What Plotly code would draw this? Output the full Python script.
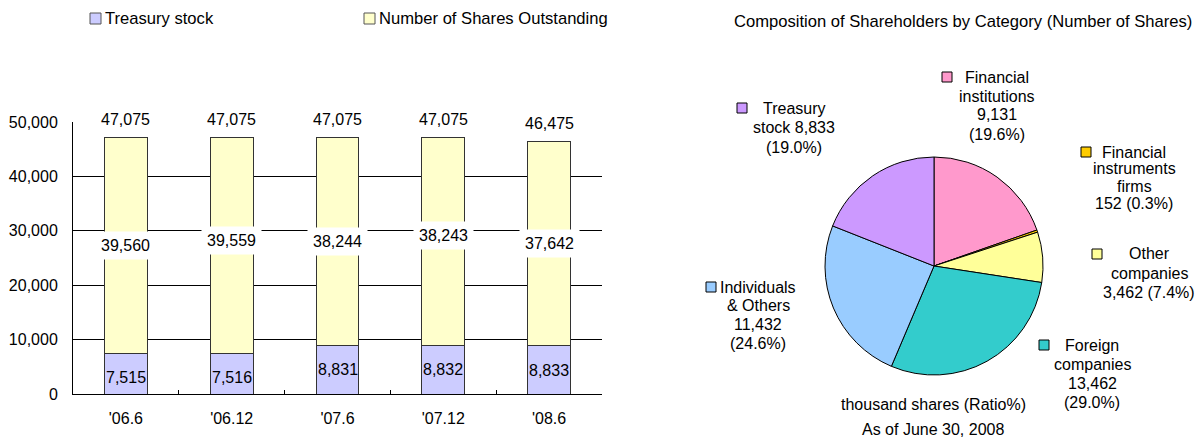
import plotly.graph_objects as go

# ---------------- data ----------------
periods = ["'06.6", "'06.12", "'07.6", "'07.12", "'08.6"]
treasury = [7515, 7516, 8831, 8832, 8833]
outstanding = [39560, 39559, 38244, 38243, 37642]
totals = [47075, 47075, 47075, 47075, 46475]

pie_labels = ["Financial institutions", "Financial instruments firms", "Other companies",
              "Foreign companies", "Individuals & Others", "Treasury stock"]
pie_values = [9131, 152, 3462, 13462, 11432, 8833]
pie_pcts = [19.6, 0.3, 7.4, 29.0, 24.6, 19.0]

# ---------------- style ----------------
OFF = 8                      # page body margin of the html page
W, H = 1204 - OFF, 439 - OFF
FONT = "Liberation Sans, Arial, sans-serif"
FS = 16
C_TREAS = "#CCCCFF"
C_OUT = "#FFFFCC"
pie_colors = ["#FF99CC", "#FFCC00", "#FFFF99", "#33CCCC", "#99CCFF", "#CC99FF"]
mid_shift = [0, 5, 0, 6, 0]      # label offsets (px) as in the original
low_shift = [-4, -4, 0, 0, -1]


def px(x):
    return (x - OFF) / W


def py(y):
    return 1 - (y - OFF) / H


fig = go.Figure()
fig.add_trace(go.Bar(x=periods, y=treasury, name="Treasury stock",
                     marker=dict(color=C_TREAS, line=dict(color="#333333", width=1))))
fig.add_trace(go.Bar(x=periods, y=outstanding, name="Number of Shares Outstanding",
                     marker=dict(color=C_OUT, line=dict(color="#333333", width=1))))

fig.add_trace(go.Pie(values=pie_values, labels=pie_labels, sort=False,
                     direction="clockwise", rotation=0,
                     marker=dict(colors=pie_colors, line=dict(color="#000000", width=1)),
                     textinfo="none", showlegend=False, automargin=False,
                     domain=dict(x=[px(825), px(1043)], y=[py(375), py(157)])))

annotations = []
shapes = []
tf = dict(family=FONT, size=FS, color="#000000")
tfl = dict(family=FONT, size=16.6, color="#000000")

# bar labels
for i, p in enumerate(periods):
    annotations.append(dict(x=p, y=totals[i], xref="x", yref="y", text=f"{totals[i]:,}",
                            showarrow=False, yshift=18, bgcolor="white", borderpad=2, font=tf))
    annotations.append(dict(x=p, y=treasury[i] + outstanding[i] / 2, xref="x", yref="y",
                            text=f"{outstanding[i]:,}", showarrow=False, yshift=mid_shift[i],
                            bgcolor="white", borderpad=5, font=tf))
    annotations.append(dict(x=p, y=treasury[i] / 2, xref="x", yref="y",
                            text=f"{treasury[i]:,}", showarrow=False, yshift=low_shift[i], font=tf))

# bar legend
leg = [(90, "Treasury stock", C_TREAS),
       (364, "Number of Shares Outstanding", C_OUT)]
for x0, label, col in leg:
    shapes.append(dict(type="rect", xref="paper", yref="paper",
                       x0=px(x0), x1=px(x0 + 11), y0=py(24), y1=py(13),
                       fillcolor=col, line=dict(color="#555555", width=1)))
    annotations.append(dict(x=px(x0 + 13), y=py(18.5), xref="paper", yref="paper",
                            xanchor="left", yanchor="middle", text=label, showarrow=False, font=tfl))

# pie title & notes
annotations.append(dict(x=px(732), y=py(22), xref="paper", yref="paper", xanchor="left",
                        yanchor="middle", text="Composition of Shareholders by Category (Number of Shares)",
                        showarrow=False, font=tfl))
annotations.append(dict(x=px(933), y=py(404), xref="paper", yref="paper", xanchor="center",
                        yanchor="middle", text="thousand shares (Ratio%)", showarrow=False, font=tf))
annotations.append(dict(x=px(933), y=py(429), xref="paper", yref="paper", xanchor="center",
                        yanchor="middle", text="As of June 30, 2008", showarrow=False, font=tf))

# pie labels: (text lines, centre x, first line y, line step, key x, key y)
v = [f"{x:,}" for x in pie_values]
pc = [f"({x:.1f}%)" for x in pie_pcts]
pie_text = [
    (["Financial", "institutions", v[0], pc[0]], 997, 77, 19, 942, 77),
    (["Financial", "instruments", "firms", f"{v[1]} {pc[1]}"], 1134, 152, 17, 1081, 152),
    (["Other", "companies", f"{v[2]} {pc[2]}"], 1149, 254, 19, 1092, 254),
    (["Foreign", "companies", v[3], pc[3]], 1092, 345, 19.3, 1039, 345),
    (["Individuals", "& Others", v[4], pc[4]], 758, 287, 18.7, 706, 287),
    (["Treasury", f"stock {v[5]}", pc[5]], 794, 108, 19.5, 737, 108),
]
for k, (lines, cx, y0, step, kx, ky) in enumerate(pie_text):
    for j, ln in enumerate(lines):
        annotations.append(dict(x=px(cx), y=py(y0 + j * step), xref="paper", yref="paper",
                                xanchor="center", yanchor="middle", text=ln, showarrow=False, font=tf))
    shapes.append(dict(type="rect", xref="paper", yref="paper",
                       x0=px(kx), x1=px(kx + 10), y0=py(ky + 5), y1=py(ky - 5),
                       fillcolor=pie_colors[k], line=dict(color="#000000", width=1)))

fig.update_layout(
    width=W, height=H, margin=dict(l=0, r=0, t=0, b=0, pad=0, autoexpand=False),
    paper_bgcolor="white", plot_bgcolor="white",
    barmode="stack", bargap=0.594, showlegend=False,
    font=tf,
    xaxis=dict(domain=[px(73), px(602)], showline=True, linecolor="#000000", linewidth=1,
               ticks="inside", tickson="boundaries", ticklen=4, tickcolor="#000000",
               showgrid=False, tickfont=tf, ticklabelstandoff=10, automargin=False),
    yaxis=dict(domain=[py(394), py(122)], range=[0, 50000], dtick=10000, tickformat=",d",
               showline=True, linecolor="#000000", linewidth=1, showgrid=True,
               gridcolor="#000000", gridwidth=1, ticks="", zeroline=False,
               tickfont=tf, ticklabelstandoff=11, automargin=False),
    annotations=annotations, shapes=shapes,
)

fig.write_html("out.html")
